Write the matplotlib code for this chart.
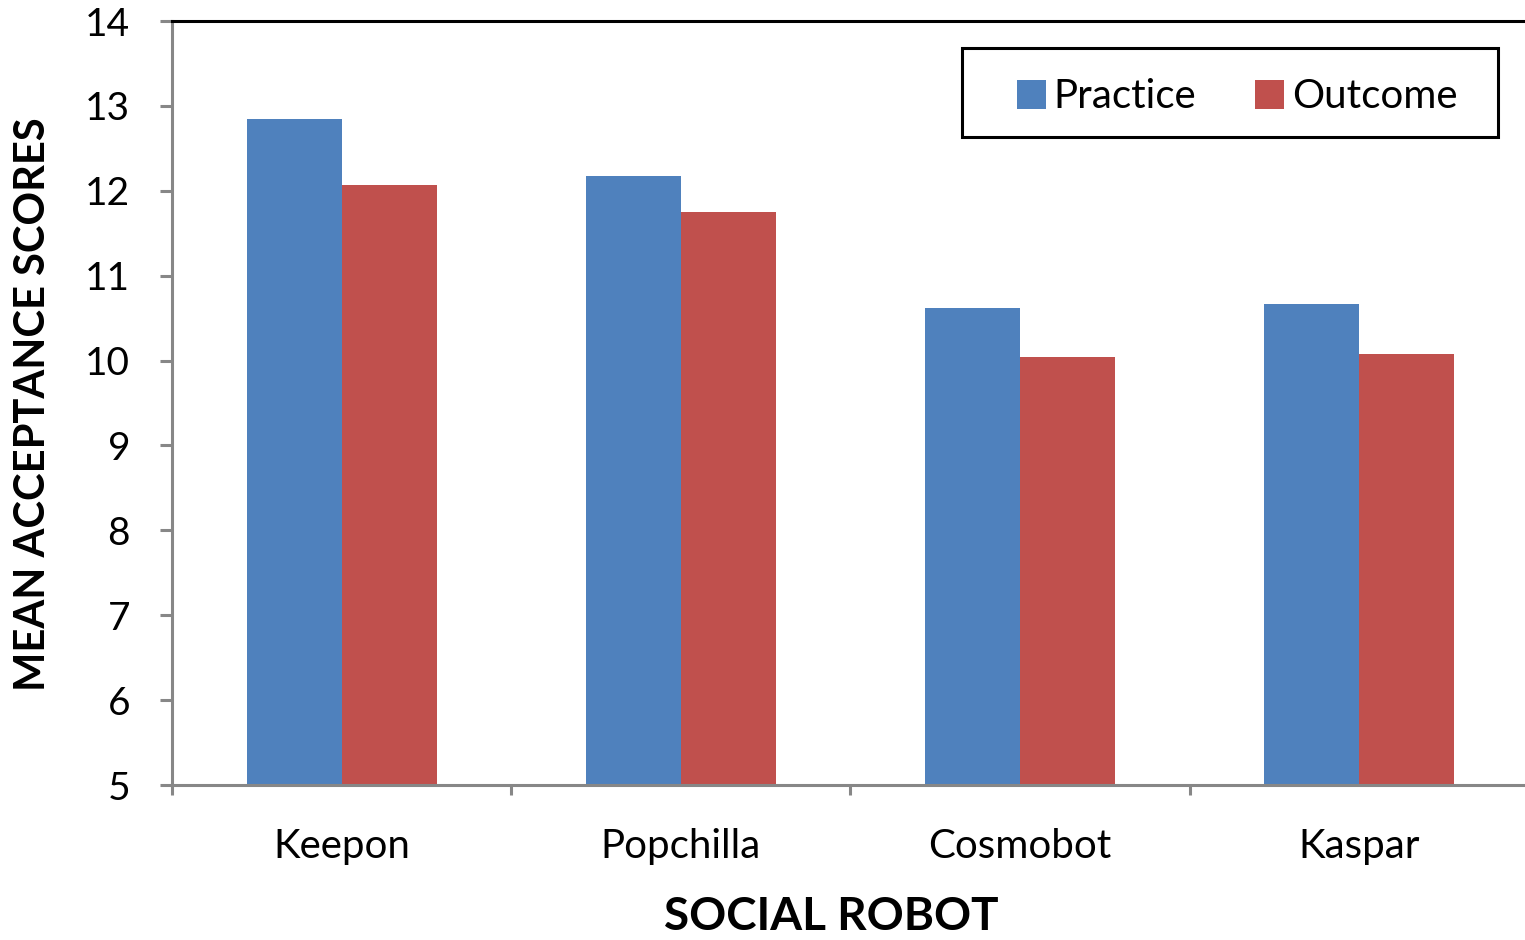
import matplotlib
matplotlib.use('Agg')
import matplotlib.pyplot as plt
from matplotlib.patches import Rectangle
import numpy as np

# data
robots = ['Keepon', 'Popchilla', 'Cosmobot', 'Kaspar']
practice = [12.85, 12.17, 10.62, 10.67]
outcome = [12.07, 11.75, 10.04, 10.08]

blue = '#4F81BD'
red = '#C0504D'
grey = '#878787'
font = 'Lato'

fig = plt.figure(figsize=(15.25, 9.4), dpi=100)
W, H = 1525, 940
px = 72 / 100  # points per pixel
ax = fig.add_axes([172 / W, 155 / H, (1529 - 172) / W, (919 - 155) / H])

x = np.arange(len(robots))
bw = 0.28
ax.bar(x - bw / 2, practice, bw, color=blue, label='Practice', zorder=2)
ax.bar(x + bw / 2, outcome, bw, color=red, label='Outcome', zorder=2)

ax.set_xlim(-0.5, len(robots) - 0.5)
ax.set_ylim(5, 14)
ax.set_yticks(range(5, 15))

# ticks on category boundaries, labels at centres
ax.set_xticks(np.arange(-0.5, len(robots), 1.0))
ax.set_xticklabels([])
ax.set_xticks(x, minor=True)
ax.set_xticklabels(robots, minor=True, fontsize=29, family=font)
ax.tick_params(axis='x', which='major', length=10 * px, width=2.2, color=grey, direction='out')
ax.tick_params(axis='x', which='minor', length=0, pad=43 * px)
ax.tick_params(axis='y', length=12 * px, width=2.2, color=grey, direction='out',
               pad=30 * px, labelsize=28)
for lab in ax.get_yticklabels():
    lab.set_family(font)

for s in ['left', 'bottom']:
    ax.spines[s].set_color(grey)
    ax.spines[s].set_linewidth(2.2)
ax.spines['top'].set_color('black')
ax.spines['top'].set_linewidth(2.2)
ax.spines['right'].set_visible(False)

fig.text(831 / W, 1 - 917 / H, 'SOCIAL ROBOT', ha='center', va='center',
         fontsize=33, fontweight='bold', family=font)
fig.text(33 / W, 1 - 404 / H, 'MEAN ACCEPTANCE SCORES', ha='center', va='center',
         rotation=90, fontsize=30, fontweight='bold', family=font)

# legend box as in the reference
fig.patches.append(Rectangle((962 / W, 1 - 137 / H), 536 / W, 89 / H, fill=False,
                             edgecolor='black', linewidth=2.2, transform=fig.transFigure))
leg = fig.legend(loc='center', bbox_to_anchor=(1237 / W, 1 - 97 / H), ncol=2,
                 frameon=False, borderaxespad=0, borderpad=0,
                 handlelength=0.72, handleheight=0.72, handletextpad=0.2,
                 columnspacing=1.45, prop={'family': font, 'size': 29})

fig.savefig('out.png', dpi=100)
